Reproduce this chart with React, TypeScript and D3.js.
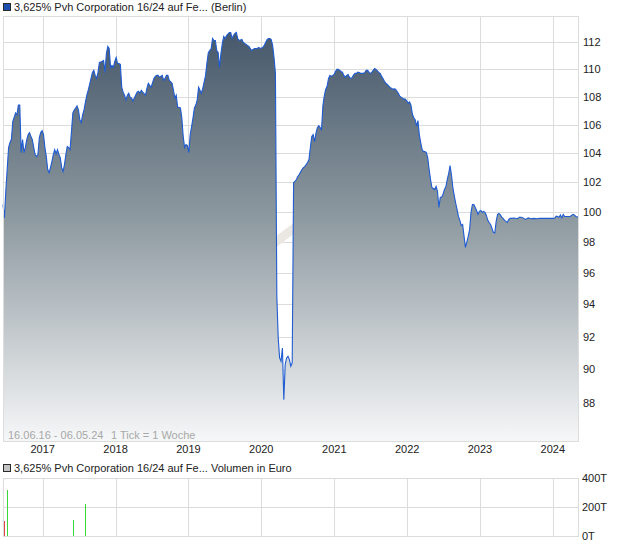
import React from 'react';
import * as d3 from 'd3';

const TITLE = '3,625% Pvh Corporation 16/24 auf Fe... (Berlin)';
const VOL_TITLE = '3,625% Pvh Corporation 16/24 auf Fe... Volumen in Euro';
const RANGE_NOTE = '16.06.16 - 06.05.24';
const TICK_NOTE = '1 Tick = 1 Woche';
const START = new Date(2016, 5, 16);
const END = new Date(2024, 4, 6);

// week offsets from START and weekly closing prices
const weekIdx = [
  0,1,2,3,4,5,6,7,9,10,11,12,13,14,15,16,17,18,19,20,21,22,23,24,25,26,27,28,29,30,
  31,32,33,34,35,36,37,38,39,40,41,42,43,44,45,46,47,48,49,50,51,52,53,54,55,56,57,58,59,60,
  61,62,63,64,65,66,67,68,69,71,72,73,74,75,76,77,78,79,80,81,82,83,84,85,86,87,88,89,90,91,
  92,93,94,96,97,98,99,100,102,103,104,105,106,108,109,110,111,112,114,115,116,117,118,119,121,122,123,124,125,127,
  128,129,130,131,132,133,134,135,136,137,138,139,140,141,142,143,145,146,147,149,150,151,152,153,154,155,156,157,158,159,
  160,162,163,164,165,166,167,168,169,171,172,173,175,176,177,178,179,180,182,183,184,186,187,188,189,190,191,192,193,194,
  195,196,197,198,199,200,201,202,203,204,205,206,207,208,209,210,211,212,214,215,216,217,218,219,220,221,222,223,224,225,
  226,227,228,229,230,231,232,233,234,235,236,237,238,239,240,241,242,243,244,245,246,247,248,249,250,251,252,253,254,255,
  256,257,258,259,260,261,262,263,264,265,266,267,268,269,270,271,272,273,274,275,276,277,278,279,280,281,282,283,284,285,
  286,287,288,289,290,291,292,293,294,295,296,297,298,299,300,301,302,303,304,305,306,307,308,309,310,311,312,313,314,315,
  316,317,318,319,320,321,322,323,324,325,326,327,328,329,330,331,332,333,334,335,336,337,338,339,340,341,342,343,344,345,
  346,347,348,349,350,351,352,353,354,355,356,357,358,359,360,361,362,363,364,366,368,370,372,374,376,378,380,382,384,386,
  388,390,392,394,395,396,397,398,399,400,401,402,404,406,408,409,410,412
];
const prices = [
  100.5,99.6,101.38,102.9,104.4,104.75,104.96,106.22,106.85,106.71,107.41,107.41,104.05,104.96,104.05,104.4,104.96,105.31,105.45,105.17,104.96,104.4,103.91,103.77,103.91,105.1,105.45,105.59,105.31,104.4,
  103.77,102.88,102.67,103.01,103.43,103.91,104.26,103.95,104.26,103.91,103.7,103.01,102.74,103.22,103.91,104.47,104.4,104.26,105.52,106.85,107.06,107.2,107.34,107.06,106.36,106.15,106.71,107.06,107.63,108.12,
  108.48,108.91,109.34,109.78,109.93,109.56,109.34,109.78,110.51,110.59,110.66,109.78,111.18,111.7,111.55,110.15,110.29,110.15,110.59,110.88,110.44,110.44,110.37,108.69,108.34,108.12,107.77,108.12,108.26,107.98,
  107.91,107.7,107.91,108.34,108.41,108.26,108.48,108.34,108.12,108.62,108.98,108.84,108.69,109.34,109.49,109.56,109.56,109.42,109.56,109.2,109.34,109.56,109.56,109.2,108.98,108.48,107.91,108.12,107.27,107.2,
  106.5,105.17,104.4,104.61,104.54,104.05,105.31,105.87,106.5,107.2,107.41,107.77,108.69,108.48,108.26,108.62,109.56,110.51,111.25,111.55,112.3,112.15,112.15,111.4,111.25,110.15,111.18,111.93,112.45,112.3,
  112.52,112.75,112.75,112.3,112.52,112.68,112.75,112.3,112.15,112.22,112.0,111.93,111.78,111.7,111.55,111.4,111.48,111.55,111.55,111.63,111.55,111.63,111.78,112.0,112.22,112.3,112.3,112.22,111.78,110.88,
  109.71,94.5,91.9,90.7,90.5,91.3,88.2,90.3,90.7,90.8,90.6,90.2,90.4,101.99,102.06,102.19,102.4,102.53,102.88,103.01,103.08,103.22,103.36,103.57,104.4,105.17,105.31,104.82,105.4,105.8,
  105.94,105.8,105.66,107.4,108.1,108.55,108.77,109.34,109.56,109.49,109.56,109.63,109.85,110.0,110.0,109.93,109.85,109.78,109.56,109.42,109.56,109.63,109.42,109.34,109.42,109.6,109.71,109.71,109.8,109.78,
  109.71,109.71,109.71,109.78,109.93,109.93,109.78,109.71,109.78,109.93,110.07,110.0,109.9,109.78,109.71,109.49,109.34,109.13,109.0,108.91,108.8,108.69,108.62,108.55,108.58,108.55,108.41,108.26,108.05,107.98,
  107.91,107.84,107.84,107.7,107.55,107.63,107.41,106.78,106.5,106.36,105.9,106.3,105.3,104.75,104.26,104.12,104.12,104.05,103.7,102.9,102.2,101.65,101.58,101.51,101.72,101.38,100.3,100.97,101.0,101.2,
  101.51,101.7,102.2,102.6,103.15,102.5,101.65,101.1,100.6,100.17,99.7,99.44,99.1,99.17,98.4,97.66,98.0,98.38,98.84,99.97,100.5,100.5,100.3,100.1,99.84,100.04,100.1,99.97,100.04,99.97,
  99.77,99.44,99.3,99.17,98.9,98.64,98.6,99.37,99.84,99.9,99.8,99.64,99.57,99.44,99.37,99.3,99.5,99.57,99.57,99.6,99.55,99.66,99.62,99.5,99.6,99.55,99.57,99.55,99.57,99.57,
  99.57,99.57,99.57,99.57,99.6,99.72,99.7,99.64,99.8,99.6,99.84,99.7,99.7,99.7,99.84,99.8,99.7,99.65
];

const yTicks = [88, 90, 92, 94, 96, 98, 100, 102, 104, 106, 108, 110, 112];
const yearTicks = [2017, 2018, 2019, 2020, 2021, 2022, 2023, 2024];

const volWeek = [1, 3, 50, 59];
const volValues = [103000, 317000, 110000, 221000];
const volUp = [false, true, true, true];
const volTicks = [0, 200000, 400000];
const volTickLabels = ['0T', '200T', '400T'];

const FONT = '"Liberation Sans", Arial, sans-serif';
const GRID = '#dcdcdc';

export default function App() {
  const left = 3, right = 578, top = 16, bottom = 441;
  const vTop = 478, vBottom = 536;

  const x = d3.scaleTime().domain([START, END]).range([left, right]);
  const y = d3.scaleLog().domain([85.8, 114]).range([bottom, top]);
  const yv = d3.scaleLinear().domain([0, 400000]).range([vBottom, vTop]);

  const data = weekIdx.map((w, i) => ({ d: d3.timeDay.offset(START, w * 7), v: prices[i] }));

  const area = d3.area<any>().x(p => x(p.d)).y0(bottom).y1(p => y(p.v)).curve(d3.curveLinear);
  const line = d3.line<any>().x(p => x(p.d)).y(p => y(p.v)).curve(d3.curveLinear);

  const years = yearTicks.map(yr => new Date(yr, 0, 1));

  return (
    <svg width={620} height={546} style={{ position: 'absolute', left: 0, top: 0, background: '#fff' }}
      fontFamily={FONT} fontSize={11}>
      <defs>
        <linearGradient id="fillGrad" gradientUnits="userSpaceOnUse" x1={0} y1={30} x2={0} y2={bottom}>
          <stop offset="0" stopColor="#45576a" />
          <stop offset="0.45" stopColor="#8c989f" />
          <stop offset="1" stopColor="#f6f7f8" />
        </linearGradient>
      </defs>

      {/* title */}
      <rect x={3.5} y={3.5} width={7} height={7} fill="#1d4fb0" stroke="#2a2a2a" strokeWidth={1} />
      <text x={14} y={11} fill="#222">{TITLE}</text>

      {/* main grid */}
      {yTicks.map(t => (
        <line key={'h' + t} x1={left} x2={right} y1={Math.round(y(t)) + 0.5} y2={Math.round(y(t)) + 0.5} stroke={GRID} />
      ))}
      {years.map((d, i) => (
        <line key={'v' + i} x1={Math.round(x(d)) + 0.5} x2={Math.round(x(d)) + 0.5} y1={top} y2={bottom} stroke={GRID} />
      ))}

      {/* watermark remnant */}
      <line x1={257} y1={256} x2={313} y2={214} stroke="#ebe7e3" strokeWidth={9} />

      {/* area & line */}
      <path d={area(data) || ''} fill="url(#fillGrad)" />
      <path d={line(data) || ''} fill="none" stroke="#1f5bd1" strokeWidth={1.1} />

      {/* frame */}
      <rect x={left + 0.5} y={top + 0.5} width={right - left} height={bottom - top} fill="none" stroke={GRID} />

      {/* notes */}
      <text x={8} y={439} fill="#a8a8a8">{RANGE_NOTE}</text>
      <text x={111} y={439} fill="#a8a8a8">{TICK_NOTE}</text>

      {/* y labels */}
      {yTicks.map(t => (
        <text key={'yl' + t} x={583} y={y(t)} dy="0.35em" fill="#222">{t}</text>
      ))}
      {/* year labels */}
      {years.map((d, i) => (
        <text key={'yr' + i} x={x(d)} y={453} textAnchor="middle" fill="#222">{yearTicks[i]}</text>
      ))}

      {/* volume panel */}
      <rect x={3.5} y={464.5} width={7} height={7} fill="#c4c4c4" stroke="#2a2a2a" strokeWidth={1} />
      <text x={14} y={472} fill="#222">{VOL_TITLE}</text>
      {volTicks.map(t => (
        <line key={'vh' + t} x1={left} x2={right} y1={Math.round(yv(t)) + 0.5} y2={Math.round(yv(t)) + 0.5} stroke={GRID} />
      ))}
      {years.map((d, i) => (
        <line key={'vv' + i} x1={Math.round(x(d)) + 0.5} x2={Math.round(x(d)) + 0.5} y1={vTop} y2={vBottom} stroke={GRID} />
      ))}
      <rect x={left + 0.5} y={vTop + 0.5} width={right - left} height={vBottom - vTop} fill="none" stroke={GRID} />
      {volWeek.map((w, i) => {
        const xx = Math.round(x(d3.timeDay.offset(START, w * 7)));
        return (
          <rect key={'vb' + i} x={xx} y={yv(volValues[i])} width={1} height={yv(0) - yv(volValues[i])}
            fill={volUp[i] ? '#3ad83a' : '#e04848'} shapeRendering="crispEdges" />
        );
      })}
      {volTicks.map((t, i) => (
        <text key={'vl' + t} x={582} y={yv(t)} dy="0.35em" fill="#222">{volTickLabels[i]}</text>
      ))}
    </svg>
  );
}
